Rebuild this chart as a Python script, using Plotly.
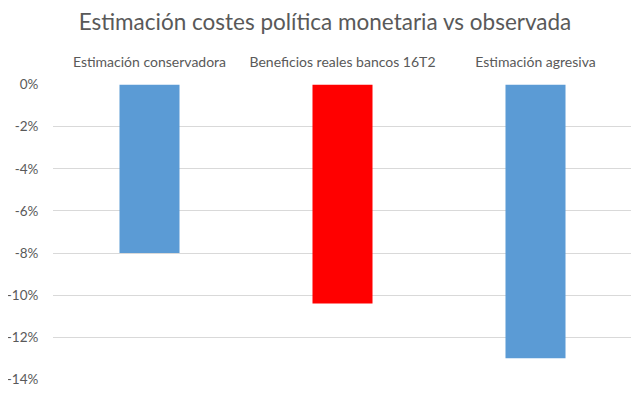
import plotly.graph_objects as go

categories = ["Estimación conservadora", "Beneficios reales bancos 16T2", "Estimación agresiva"]
values = [-0.08, -0.104, -0.13]
colors = ["#5B9BD5", "#FF0000", "#5B9BD5"]
tick_vals = [0, -0.02, -0.04, -0.06, -0.08, -0.10, -0.12, -0.14]
tick_text = ["0%", "-2%", "-4%", "-6%", "-8%", "-10%", "-12%", "-14%"]

# page body has an 8px default margin; compensate in figure size/margins
fig = go.Figure(go.Bar(x=categories, y=values, marker=dict(color=colors, line=dict(width=0)), width=0.311))

fig.update_layout(
    width=631, height=388,
    margin=dict(l=45, r=7, t=76, b=16),
    paper_bgcolor="white", plot_bgcolor="white",
    font=dict(family="Lato", color="#595959", size=13),
    title=dict(text="Estimación costes política monetaria vs observada", x=(325 - 8) / 631, xanchor="center",
               y=1 - 14 / 388, yanchor="middle", yref="container",
               font=dict(size=22.5, color="#595959", family="Lato")),
    showlegend=False,
    bargap=0.689,
)
fig.update_xaxes(side="top", showline=False, showgrid=False, ticks="outside", ticklen=10,
                 tickcolor="rgba(0,0,0,0)", tickfont=dict(size=14), automargin=False)
fig.update_yaxes(range=[-0.1403, 0.0003], tickvals=tick_vals, ticktext=tick_text, showgrid=True,
                 gridcolor="#D9D9D9", gridwidth=1, zeroline=False, showline=False,
                 ticks="outside", ticklen=11, tickcolor="rgba(0,0,0,0)", tickfont=dict(size=13.5),
                 automargin=False)

fig.write_html("out.html")
